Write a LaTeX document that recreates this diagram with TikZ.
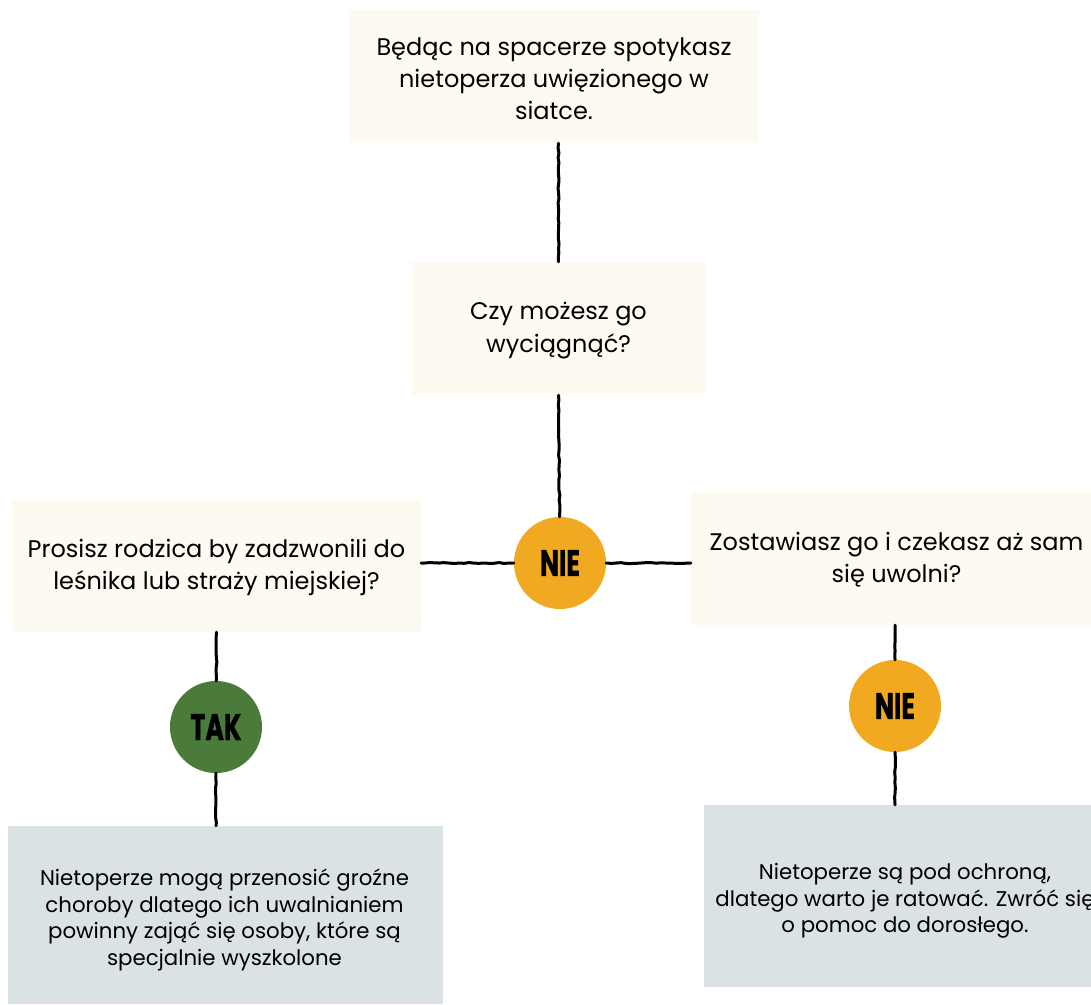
\documentclass[tikz,border=0pt]{standalone}
\usepackage{fontspec}
\setmainfont{Poppins}
\newfontfamily\badgefont{Poppins Bold}[FakeBold=1.2]
\usetikzlibrary{decorations.pathmorphing}
\definecolor{cream}{HTML}{FDFAF1}
\definecolor{greybox}{HTML}{DBE2E3}
\definecolor{orangec}{HTML}{F1A922}
\definecolor{greenc}{HTML}{4B7B3B}
\tikzset{
  qbox/.style={fill=cream, draw=none, inner sep=0pt, align=center, font=\fontsize{24}{32}\selectfont},
  abox/.style={fill=greybox, draw=none, inner sep=0pt, align=center, font=\fontsize{21.3}{26.5}\selectfont},
  badge/.style={circle, minimum size=92pt, inner sep=0pt, draw=none},
  conn/.style={line width=3pt, black, line cap=round, decorate, decoration={random steps, segment length=5pt, amplitude=0.5pt}},
}
\newcommand{\badgetext}[1]{\scalebox{0.68}[1]{\fontsize{37}{37}\badgefont #1}}
\begin{document}
\begin{tikzpicture}[x=1pt,y=-1pt]
\useasboundingbox (0,0) rectangle (1091,1004);
\clip (0,0) rectangle (1091,1004);
% nodes
\node[qbox, minimum width=410pt, minimum height=133pt] (top) at (554,76.5)
  {};
\node[qbox, fill=none] (toptext) at (554,79)
  {Będąc na spacerze spotykasz\\nietoperza uwięzionego w\\siatce.};
\node[qbox, minimum width=293pt, minimum height=133pt] (q) at (558.5,328.5)
  {};
\node[qbox, fill=none, font=\fontsize{24}{33}\selectfont] (qtext) at (558.5,331)
  {Czy możesz go\\wyciągnąć?};
\node[qbox, minimum width=409pt, minimum height=132pt] (left) at (216.5,566)
  {};
\node[qbox, fill=none] (lefttext) at (216.5,567.5)
  {Prosisz rodzica by zadzwonili do\\leśnika lub straży miejskiej?};
\node[qbox, minimum width=400pt, minimum height=133pt] (right) at (891,558.5)
  {};
\node[qbox, fill=none] (righttext) at (896.5,560) {Zostawiasz go i czekasz aż sam\\się uwolni?};
\node[badge, fill=orangec] (nie1) at (560,563) {\badgetext{NIE}};
\node[badge, fill=greenc] (tak) at (216,727) {\badgetext{TAK}};
\node[badge, fill=orangec] (nie2) at (895,706) {\badgetext{NIE}};
\node[abox, minimum width=435pt, minimum height=178pt] (bl) at (225.5,915)
  {};
\node[abox, fill=none] (bltext) at (224.5,920)
  {Nietoperze mogą przenosić groźne\\choroby dlatego ich uwalnianiem\\powinny zająć się osoby, które są\\specjalnie wyszkolone};
\node[abox, minimum width=387pt, minimum height=182pt] (br) at (897.5,896) {};
\node[abox, fill=none] (brtext) at (905,901)
  {Nietoperze są pod ochroną,\\dlatego warto je ratować. Zwróć się\\o pomoc do dorosłego.};
% connectors
\draw[conn] (top.south -| q.north) -- (q.north);
\draw[conn] (q.south) -- (nie1);
\draw[conn] (nie1) -- (nie1 -| left.east);
\draw[conn] (nie1) -- (nie1 -| right.west);
\draw[conn] (left.south) -- (tak);
\draw[conn] (tak) -- (tak |- bl.north);
\draw[conn] (right.south -| nie2) -- (nie2);
\draw[conn] (nie2) -- (nie2 |- br.north);
\end{tikzpicture}
\end{document}
